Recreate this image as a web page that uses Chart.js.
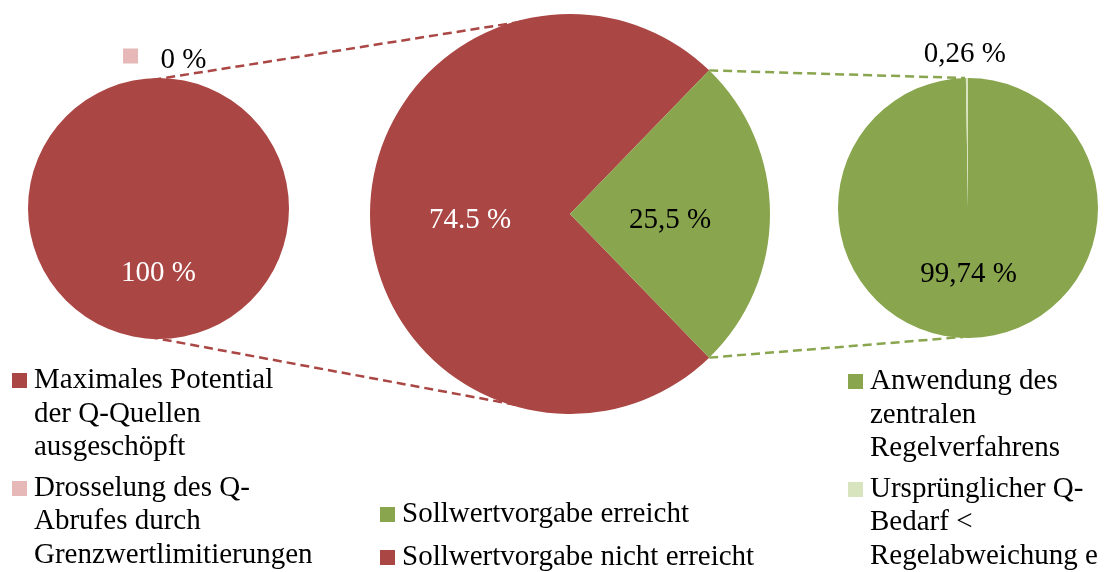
<!DOCTYPE html>
<html>
<head>
<meta charset="utf-8">
<script src="https://cdn.jsdelivr.net/npm/chart.js@4.4.0/dist/chart.umd.min.js"></script>
<style>
  html, body { margin: 0; padding: 0; background: #fff; }
  #stage {
    position: relative; width: 1106px; height: 572px; overflow: hidden;
    font-family: "Liberation Serif", "Times New Roman", serif; font-size: 29px; color: #000;
  }
  #stage canvas { position: absolute; }
  .lbl { position: absolute; white-space: nowrap; line-height: 1; transform: translate(-50%, -50%); z-index: 2; }
  .lbl .key { display: inline-block; width: 15px; height: 15px; margin-right: 23px; vertical-align: 4px; }
  .legend { position: absolute; line-height: 33.5px; z-index: 2; }
  .item { position: relative; padding-left: 22px; margin-bottom: 7px; white-space: pre-line; }
  .item .key { position: absolute; left: 0; top: 11px; width: 15px; height: 15px; }
  #midLegend .item { margin-bottom: 9.5px; }
</style>
</head>
<body>
<div id="stage">
  <canvas id="lines" width="1106" height="572" style="left:0;top:0;z-index:0"></canvas>
  <canvas id="leftPie" width="261" height="261" style="left:28px;top:78px;z-index:1"></canvas>
  <canvas id="midPie" width="400" height="400" style="left:370px;top:14px;z-index:1"></canvas>
  <canvas id="rightPie" width="260" height="260" style="left:838px;top:78px;z-index:1"></canvas>
  <div class="legend" id="leftLegend" style="left:12px;top:362px"></div>
  <div class="legend" id="midLegend" style="left:380px;top:496px"></div>
  <div class="legend" id="rightLegend" style="left:848px;top:363px"></div>
</div>
<script>
// left pie: Q-Quellen
const leftCategories = ["Maximales Potential\nder Q-Quellen\nausgeschöpft", "Drosselung des Q-\nAbrufes durch\nGrenzwertlimitierungen"];
const leftValues = [100, 0];
const leftValueLabels = ["100 %", "0 %"];

// middle pie: Sollwertvorgabe
const midCategories = ["Sollwertvorgabe nicht erreicht", "Sollwertvorgabe erreicht"];
const midValues = [74.5, 25.5];
const midValueLabels = ["74.5 %", "25,5 %"];

// right pie: Regelverfahren
const rightCategories = ["Anwendung des\nzentralen\nRegelverfahrens", "Ursprünglicher Q-\nBedarf <\nRegelabweichung e"];
const rightValues = [99.74, 0.26];
const rightValueLabels = ["99,74 %", "0,26 %"];

const RED = "#AA4643", PINK = "#E6B9B8", GREEN = "#89A54E", LIGHTGREEN = "#D7E4BD";

function makePie(id, labels, values, colors, rotation) {
    return new Chart(document.getElementById(id), {
        type: "pie",
        data: {
            labels: labels,
            datasets: [{ data: values, backgroundColor: colors, borderWidth: 0 }],
        },
        options: {
            responsive: false,
            animation: false,
            events: [],
            rotation: rotation,
            layout: { padding: 0 },
            plugins: { legend: { display: false }, tooltip: { enabled: false } },
        },
    });
}

// middle pie: green slice centred on the right side
const midTotal = midValues[0] + midValues[1];
const midRotation = 90 - (midValues[0] / midTotal) * 360 - (midValues[1] / midTotal) * 180;

const leftChart = makePie("leftPie", leftCategories, leftValues, [RED, PINK], 0);
const midChart = makePie("midPie", midCategories, midValues, [RED, GREEN], midRotation);
const rightChart = makePie("rightPie", rightCategories, rightValues, [GREEN, LIGHTGREEN], 0);

const stage = document.getElementById("stage");

function arcsOf(chart) {
    const cv = chart.canvas;
    return chart.getDatasetMeta(0).data.map((a) => ({
        x: a.x + cv.offsetLeft,
        y: a.y + cv.offsetTop,
        r: a.outerRadius,
        start: a.startAngle,
        end: a.endAngle,
    }));
}

// value labels: inside at the centroid, tiny slices above the pie
function placeLabels(chart, values, texts, opts) {
    const total = values.reduce((s, v) => s + v, 0);
    arcsOf(chart).forEach((a, i) => {
        const mid = (a.start + a.end) / 2;
        const inside = values[i] / total > 0.05;
        const rad = inside ? a.r / 2 : a.r + opts.outDist;
        const el = document.createElement("div");
        el.className = "lbl";
        el.style.left = a.x + Math.cos(mid) * rad + (inside ? 0 : opts.outDx) + "px";
        el.style.top = a.y + Math.sin(mid) * rad + (inside ? opts.inDy : 0) + "px";
        el.style.color = opts.colors[i];
        if (opts.keys && opts.keys[i]) {
            const k = document.createElement("span");
            k.className = "key";
            k.style.background = opts.keys[i];
            el.appendChild(k);
        }
        el.appendChild(document.createTextNode(texts[i]));
        stage.appendChild(el);
    });
}

placeLabels(leftChart, leftValues, leftValueLabels,
    { colors: ["#fff", "#000"], keys: [null, PINK], inDy: -3, outDist: 20, outDx: 6 });
placeLabels(midChart, midValues, midValueLabels,
    { colors: ["#fff", "#000"], inDy: 4, outDist: 24, outDx: 0 });
placeLabels(rightChart, rightValues, rightValueLabels,
    { colors: ["#000", "#000"], inDy: -1, outDist: 26, outDx: -2 });

function buildLegend(id, labels, colors) {
    const box = document.getElementById(id);
    labels.forEach((txt, i) => {
        const it = document.createElement("div");
        it.className = "item";
        const k = document.createElement("span");
        k.className = "key";
        k.style.background = colors[i];
        it.appendChild(k);
        it.appendChild(document.createTextNode(txt));
        box.appendChild(it);
    });
}

buildLegend("leftLegend", leftCategories, [RED, PINK]);
buildLegend("midLegend", [midCategories[1], midCategories[0]], [GREEN, RED]);
buildLegend("rightLegend", rightCategories, [GREEN, LIGHTGREEN]);

// dashed connectors
const g = document.getElementById("lines").getContext("2d");

function outerTangent(c1, c2, side, inset) {
    const r1 = c1.r - inset, r2 = c2.r - inset;
    const dx = c2.x - c1.x, dy = c2.y - c1.y;
    const D = Math.hypot(dx, dy);
    const th = Math.atan2(dy, dx) + side * Math.acos((r1 - r2) / D);
    const nx = Math.cos(th), ny = Math.sin(th);
    return [c1.x + r1 * nx, c1.y + r1 * ny, c2.x + r2 * nx, c2.y + r2 * ny];
}

function dashed(pts, color) {
    g.save();
    g.strokeStyle = color;
    g.lineWidth = 2.5;
    g.setLineDash([9, 5]);
    g.beginPath();
    g.moveTo(pts[0], pts[1]);
    g.lineTo(pts[2], pts[3]);
    g.stroke();
    g.restore();
}

const L = arcsOf(leftChart)[0];
const M = arcsOf(midChart);
const R = arcsOf(rightChart)[0];

dashed(outerTangent(L, M[0], -1, 2.5), RED);
dashed(outerTangent(L, M[0], 1, 2.5), RED);

const gs = M[1];
dashed([gs.x + gs.r * Math.cos(gs.start), gs.y + gs.r * Math.sin(gs.start), R.x - 3, R.y - R.r], GREEN);
dashed([gs.x + gs.r * Math.cos(gs.end), gs.y + gs.r * Math.sin(gs.end), R.x - 5, R.y + R.r - 1], GREEN);
</script>
</body>
</html>
